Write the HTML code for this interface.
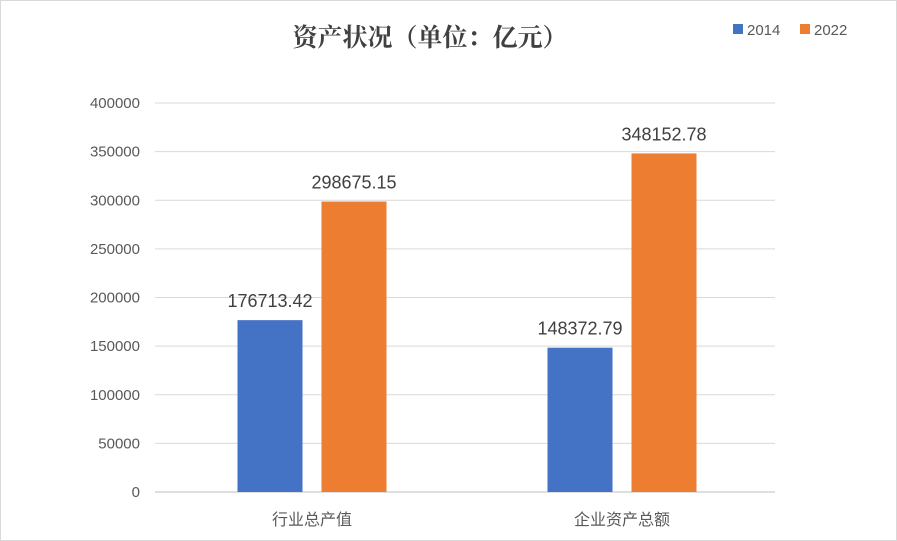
<!DOCTYPE html>
<html><head><meta charset="utf-8"><style>
body{margin:0;background:#fff}
svg{display:block}
</style></head><body>
<svg id="chart" width="897" height="541" font-family="'Liberation Sans','Noto Sans CJK SC',sans-serif">
<rect x="0.5" y="0.5" width="896" height="540" fill="#fff" stroke="#d9d9d9"/>
<text x="430" y="46" text-anchor="middle" font-size="25" font-weight="bold" fill="#404040" font-family="'Liberation Serif','Noto Serif CJK SC',serif">资产状况（单位：亿元）</text>
<g>
<rect x="733" y="24" width="10" height="10" fill="#4472c4"/>
<text x="747" y="35" font-size="15" fill="#595959">2014</text>
<rect x="800" y="24" width="10" height="10" fill="#ed7d31"/>
<text x="814" y="35" font-size="15" fill="#595959">2022</text>
</g>
<g id="grid"></g><g id="bars"></g><g id="labels"></g>
</svg>
<script>
const categories=["行业总产值","企业资产总额"];
const series2014=[176713.42,148372.79];
const series2022=[298675.15,348152.78];
const yTicks=[0,50000,100000,150000,200000,250000,300000,350000,400000];
const ns="http://www.w3.org/2000/svg";
const X0=155,X1=775,Y0=492,Y1=103,YMAX=400000;
const y=v=>Y0-(v/YMAX)*(Y0-Y1);
const bw=(X1-X0)/categories.length;
function mk(tag,attrs,parent,text){const e=document.createElementNS(ns,tag);for(const k in attrs)e.setAttribute(k,attrs[k]);if(text!==undefined)e.textContent=text;parent.appendChild(e);return e;}
const grid=document.getElementById('grid'),bars=document.getElementById('bars'),labels=document.getElementById('labels');
yTicks.forEach(t=>{
 const l=mk('line',{x1:X0,x2:X1,y1:y(t),y2:y(t),stroke:t===0?'#bfbfbf':'#d9d9d9','stroke-width':1},grid);
 
 
 const tx=mk('text',{x:140,y:y(t)+5,'text-anchor':'end','font-size':15,fill:'#595959'},grid,String(t));
 
 
});
const barW=65,gap=19;
categories.forEach((c,i)=>{
 const cx=X0+bw*(i+0.5)+2;
 [[series2014,'#4472c4',cx-gap/2-barW],[series2022,'#ed7d31',cx+gap/2]].forEach(([s,col,x],j)=>{
  const v=s[i];
  const r=mk('rect',{x:x,y:y(v),width:barW,height:Y0-y(v),fill:col},bars);
  
  
  const t=mk('text',{x:x+barW/2,y:y(v)-13,'text-anchor':'middle','font-size':18,fill:'#404040'},labels,v.toFixed(2));
  
  
 });
 const ct=mk('text',{x:cx,y:525,'text-anchor':'middle','font-size':16,fill:'#595959'},labels,c);
 
 
});
</script>
</body></html>
